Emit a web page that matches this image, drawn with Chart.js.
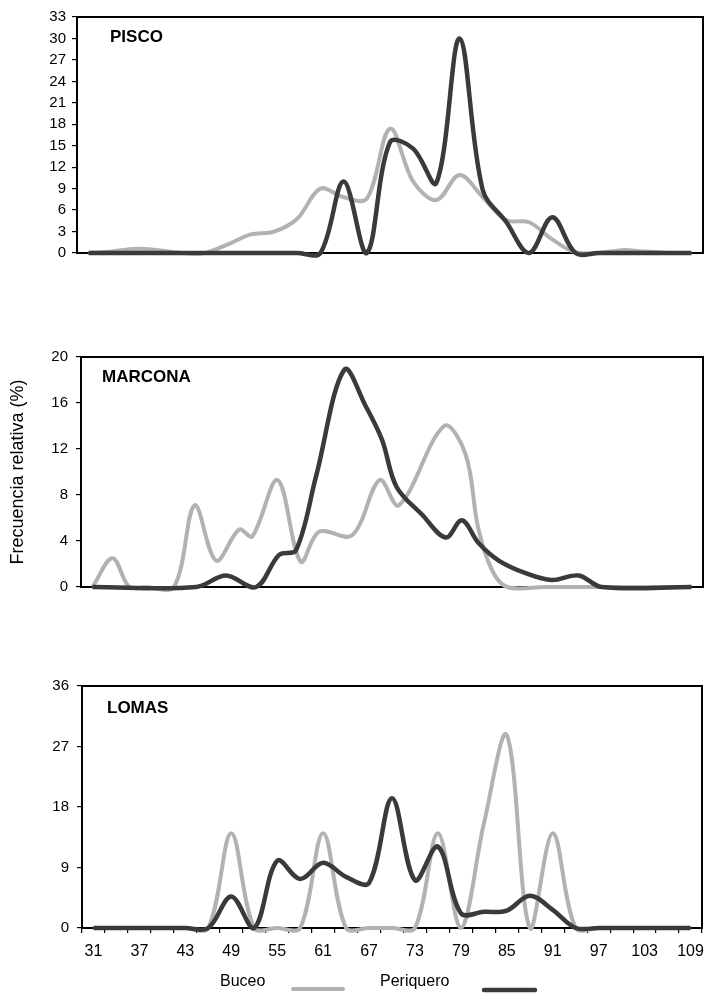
<!DOCTYPE html>
<html lang="es">
<head>
<meta charset="UTF-8">
<title>Frecuencia relativa por tallas</title>
<script src="https://cdn.jsdelivr.net/npm/chart.js"></script>
<style>
  body { margin: 0; background: #fff; }
  #wrap { position: relative; width: 705px; height: 995px; }
  #wrap canvas { position: absolute; left: 0; top: 0; }
</style>
</head>
<body>
<div id="wrap">
  <canvas id="pisco" width="705" height="995"></canvas>
  <canvas id="marcona" width="705" height="995"></canvas>
  <canvas id="lomas" width="705" height="995"></canvas>
</div>
<script>
// tallas (mm), clases cada 3
var lengths = [31, 34, 37, 40, 43, 46, 49, 52, 55, 58, 61, 64, 67, 70, 73, 76, 79, 82, 85, 88, 91, 94, 97, 100, 103, 106, 109];
var xTickLabels = ['31', '37', '43', '49', '55', '61', '67', '73', '79', '85', '91', '97', '103', '109'];

// PISCO
var piscoBuceo     = [0, 0.2, 0.6, 0.4, 0, 0, 1.2, 2.6, 3.0, 4.8, 9.0, 7.8, 7.6, 17.4, 10.0, 7.4, 10.9, 7.8, 4.6, 4.3, 1.9, 0.1, 0, 0.4, 0.2, 0, 0];
var piscoPeriquero = [0, 0, 0, 0, 0, 0, 0, 0, 0, 0, 0, 10.0, 0, 15.5, 14.6, 9.8, 30.0, 8.8, 4.4, 0, 5.0, 0, 0, 0, 0, 0, 0];

// MARCONA (tallas)
var marconaBuceoX = [31, 33.6, 35.8, 38, 41.6, 44.3, 47.1, 50.1, 51.8, 55.1, 58.1, 60.5, 64.8, 68.4, 70.9, 76.8, 79.6, 81.2, 83, 85, 90, 95, 100, 105, 109];
var marconaBuceoY = [0, 2.5, 0, 0, 0, 7.1, 2.3, 5.0, 4.4, 9.3, 2.2, 4.8, 4.5, 9.3, 7.1, 14.0, 11.5, 5.2, 1.5, 0, 0, 0, 0, 0, 0];
var marconaPeriqueroX = [31, 44.5, 48.4, 52.3, 55.3, 57.5, 60.1, 63.8, 66.6, 68.7, 70.6, 73.9, 77, 79.1, 81.3, 83.9, 87.4, 90.8, 94.3, 97.3, 109];
var marconaPeriqueroY = [0, 0, 1.0, 0, 2.8, 3.2, 9.6, 18.9, 15.7, 12.8, 8.7, 6.3, 4.3, 5.8, 3.8, 2.3, 1.2, 0.6, 1.0, 0, 0];

// LOMAS
var lomasBuceo     = [0, 0, 0, 0, 0, 0, 14.1, 0, 0, 0, 14.1, 0, 0, 0, 0, 14.1, 0, 15.5, 28.7, 0, 14.1, 0, 0, 0, 0, 0, 0];
var lomasPeriquero = [0, 0, 0, 0, 0, 0, 4.7, 0, 10.0, 7.3, 9.7, 7.6, 6.7, 19.3, 7.1, 12.1, 2.2, 2.4, 2.6, 4.8, 2.7, 0, 0, 0, 0, 0, 0];

function toPoints(xs, ys) {
  return xs.map(function (x, i) { return { x: x, y: ys[i] }; });
}

Chart.defaults.font.family = '"Liberation Sans", Arial, Helvetica, sans-serif';
Chart.defaults.color = '#000';

var GRAY = '#b2b2b2';
var DARK = '#3a3a3a';

// marco del panel, nombre del sitio y leyenda
var framePlugin = {
  id: 'frame',
  beforeDatasetsDraw: function (chart, args, opts) {
    var a = chart.chartArea, ctx = chart.ctx;
    ctx.save();
    ctx.strokeStyle = '#000';
    ctx.lineWidth = 2;
    ctx.strokeRect(a.left, a.top, a.right - a.left, a.bottom - a.top);
    ctx.font = 'bold 17px "Liberation Sans", Arial, sans-serif';
    ctx.fillStyle = '#000';
    ctx.textBaseline = 'middle';
    ctx.fillText(opts.name, a.left + opts.nameDx, a.top + opts.nameDy);
    ctx.restore();
  },
  afterDraw: function (chart, args, opts) {
    if (!opts.legend) return;
    var ctx = chart.ctx, ds = chart.data.datasets;
    ctx.save();
    ctx.font = '16px "Liberation Sans", Arial, sans-serif';
    ctx.fillStyle = '#000';
    ctx.textBaseline = 'middle';
    ctx.fillText(ds[0].label, 220, 982);
    ctx.fillText(ds[1].label, 380, 982);
    ctx.lineCap = 'round';
    ctx.strokeStyle = ds[0].borderColor;
    ctx.lineWidth = ds[0].borderWidth;
    ctx.beginPath(); ctx.moveTo(293, 989); ctx.lineTo(343, 989); ctx.stroke();
    ctx.strokeStyle = ds[1].borderColor;
    ctx.lineWidth = ds[1].borderWidth;
    ctx.beginPath(); ctx.moveTo(484, 990); ctx.lineTo(535, 990); ctx.stroke();
    ctx.restore();
  }
};

function makePanel(id, p) {
  var showX = !!p.showX;
  var xH = showX ? 42 : 0;
  return new Chart(document.getElementById(id), {
    type: 'line',
    data: {
      datasets: [
        { label: 'Buceo', data: p.buceo, borderColor: GRAY, borderWidth: 4, order: 1,
          clip: { left: 2, top: 5, right: 2, bottom: 6 } },
        { label: 'Periquero', data: p.periquero, borderColor: DARK, borderWidth: 4.5, order: 0,
          clip: { left: 2, top: 5, right: 2, bottom: 6 } }
      ]
    },
    options: {
      responsive: false,
      animation: false,
      events: [],
      layout: { padding: { left: 0, top: p.top, right: 705 - p.right, bottom: 995 - p.bottom - xH } },
      elements: {
        point: { radius: 0 },
        line: { tension: 0.35, capBezierPoints: false, fill: false }
      },
      plugins: {
        legend: { display: false },
        tooltip: { enabled: false },
        frame: { name: p.name, nameDx: p.nameDx, nameDy: p.nameDy, legend: showX }
      },
      scales: {
        x: {
          type: 'linear',
          min: 29.5,
          max: 110.5,
          display: showX,
          afterBuildTicks: function (s) { s.ticks = lengths.map(function (v) { return { value: v }; }); },
          afterFit: function (s) { s.height = xH; s.paddingLeft = 0; s.paddingRight = 0; },
          border: { display: false },
          grid: { offset: true, drawOnChartArea: false, tickLength: 5, color: '#000', lineWidth: 1.2 },
          ticks: {
            autoSkip: false, maxRotation: 0, padding: 9,
            font: { size: 16 },
            callback: function (v) { return xTickLabels.indexOf(String(v)) >= 0 ? String(v) : ''; }
          }
        },
        y: {
          min: 0,
          max: p.yMax,
          afterFit: function (s) { s.width = p.left; s.paddingTop = 0; s.paddingBottom = 0; },
          border: { display: false },
          grid: { drawOnChartArea: false, tickLength: 5, color: '#000', lineWidth: 1.2 },
          ticks: { stepSize: p.yStep, padding: p.tickPad, font: { size: 15 } },
          title: {
            display: !!p.yTitle,
            text: p.yTitle || '',
            font: { size: 18 },
            padding: { top: 7, bottom: 0 }
          }
        }
      }
    },
    plugins: [framePlugin]
  });
}

makePanel('pisco', {
  name: 'PISCO', nameDx: 33, nameDy: 20,
  left: 77, right: 703, top: 17, bottom: 253,
  yMax: 33, yStep: 3, tickPad: 6,
  buceo: toPoints(lengths, piscoBuceo),
  periquero: toPoints(lengths, piscoPeriquero)
});

makePanel('marcona', {
  name: 'MARCONA', nameDx: 21, nameDy: 20,
  left: 81, right: 703, top: 357, bottom: 587,
  yMax: 20, yStep: 4, tickPad: 8,
  yTitle: 'Frecuencia relativa (%)',
  buceo: toPoints(marconaBuceoX, marconaBuceoY),
  periquero: toPoints(marconaPeriqueroX, marconaPeriqueroY)
});

makePanel('lomas', {
  name: 'LOMAS', nameDx: 25, nameDy: 22,
  left: 82, right: 702, top: 686, bottom: 928,
  yMax: 36, yStep: 9, tickPad: 8,
  showX: true,
  buceo: toPoints(lengths, lomasBuceo),
  periquero: toPoints(lengths, lomasPeriquero)
});
</script>
</body>
</html>
